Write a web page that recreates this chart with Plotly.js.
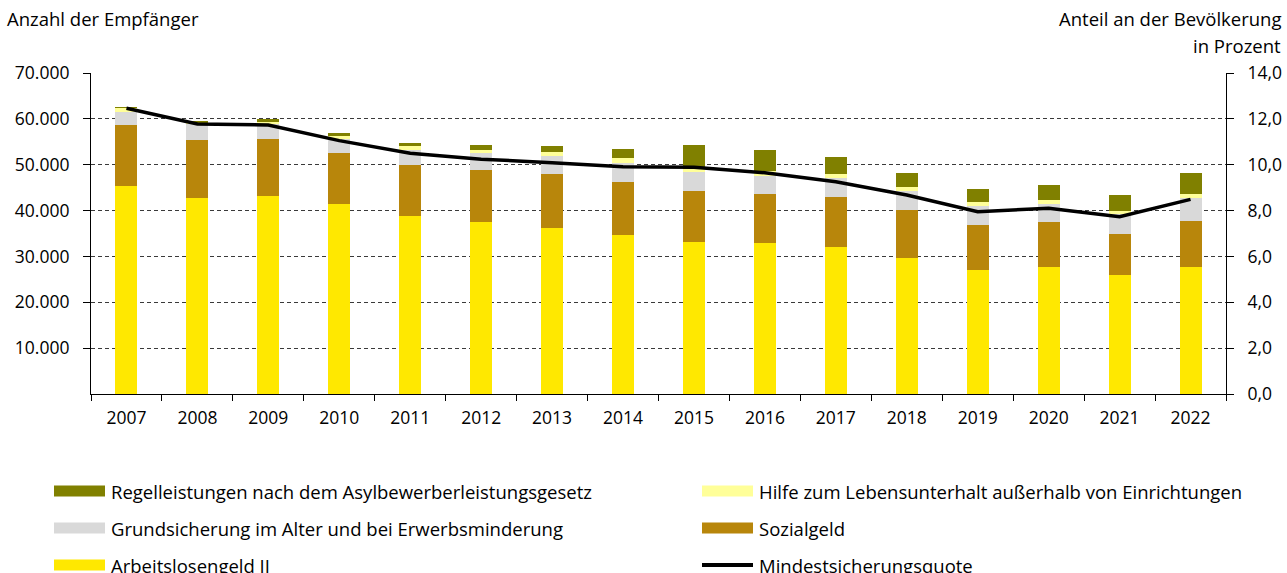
<!DOCTYPE html>
<html>
<head>
<meta charset="utf-8">
<script src="https://cdn.plot.ly/plotly-3.0.1.min.js"></script>
<style>html,body{margin:0;padding:0;background:#fff;}#chart{width:1287px;height:573px;}</style>
</head>
<body>
<div id="chart"></div>
<script>
// ---- data ----
const years = ['2007','2008','2009','2010','2011','2012','2013','2014','2015','2016','2017','2018','2019','2020','2021','2022'];
const arbeitslosengeld = [45300,42700,43100,41400,38800,37400,36300,34700,33200,33000,32100,29700,27000,27700,26000,27600];
const sozialgeld       = [13400,12700,12500,11200,11100,11500,11700,11600,11100,10700,10900,10400, 9900, 9700, 9000,10200];
const grundsicherung   = [ 2900, 3400, 3200, 3000, 3400, 3600, 3900, 4000, 4200, 3900, 4000, 4200, 4000, 4100, 4300, 5000];
const hilfe            = [  700,  400,  600,  700,  700,  800,  800, 1100,  600, 1000,  900,  800,  900,  900,  600,  800];
const asyl             = [  300,  300,  500,  600,  700,  900, 1400, 2000, 5300, 4700, 3700, 3200, 2900, 3100, 3500, 4700];
const quote            = [12.46,11.78,11.73,11.05,10.5,10.24,10.09,9.91,9.89,9.65,9.26,8.68,7.95,8.1,7.73,8.49];

const nameAsyl = 'Regelleistungen nach dem Asylbewerberleistungsgesetz';
const nameHilfe = 'Hilfe zum Lebensunterhalt außerhalb von Einrichtungen';
const nameGrund = 'Grundsicherung im Alter und bei Erwerbsminderung';
const nameSoz = 'Sozialgeld';
const nameAlg = 'Arbeitslosengeld II';
const nameQuote = 'Mindestsicherungsquote';
const leftTitle = 'Anzahl der Empfänger';
const rightTitle1 = 'Anteil an der Bevölkerung';
const rightTitle2 = 'in Prozent';

// ---- styles ----
const FONT = '"Open Sans", "DejaVu Sans", sans-serif';
const FS = 17.5;      // tick labels
const FS_TXT = 18.5;  // legend and titles
const colAlg = '#FFE800', colSoz = '#B8860B', colGrund = '#D9D9D9', colHilfe = '#FFFF99', colAsyl = '#808000';

const W = 1287, H = 573, ML = 91, MR = 61, MT = 73, MB = 179;
const PW = W - ML - MR, PH = H - MT - MB;
const px = x => (x - ML) / PW;
const py = y => (H - MB - y) / PH;

const bar = (name, vals, color) => ({
  type: 'bar', name: name, x: years, y: vals,
  marker: {color: color, line: {width: 0}},
  showlegend: false, hoverinfo: 'skip'
});

const data = [
  bar(nameAlg, arbeitslosengeld, colAlg),
  bar(nameSoz, sozialgeld, colSoz),
  bar(nameGrund, grundsicherung, colGrund),
  bar(nameHilfe, hilfe, colHilfe),
  bar(nameAsyl, asyl, colAsyl),
  {type: 'scatter', mode: 'lines', name: nameQuote, x: years, y: quote, yaxis: 'y2',
   line: {color: '#000', width: 3.5}, showlegend: false, hoverinfo: 'skip'}
];

// manual legend (2 columns x 3 rows)
const legendItems = [
  {label: nameAsyl,  color: colAsyl,  col: 0, row: 0, kind: 'box'},
  {label: nameHilfe, color: colHilfe, col: 1, row: 0, kind: 'box'},
  {label: nameGrund, color: colGrund, col: 0, row: 1, kind: 'box'},
  {label: nameSoz,   color: colSoz,   col: 1, row: 1, kind: 'box'},
  {label: nameAlg,   color: colAlg,   col: 0, row: 2, kind: 'box'},
  {label: nameQuote, color: '#000',   col: 1, row: 2, kind: 'line'}
];
const colX = [54, 702], rowY = [491, 528, 565], swW = 51, swH = 11;
const shapes = [], annotations = [];
legendItems.forEach(it => {
  const x0 = colX[it.col], yc = rowY[it.row];
  if (it.kind === 'box') {
    shapes.push({type: 'rect', xref: 'paper', yref: 'paper',
      x0: px(x0), x1: px(x0 + swW), y0: py(yc + swH/2), y1: py(yc - swH/2),
      fillcolor: it.color, line: {width: 0}});
  } else {
    shapes.push({type: 'line', xref: 'paper', yref: 'paper',
      x0: px(x0), x1: px(x0 + swW), y0: py(yc), y1: py(yc),
      line: {color: it.color, width: 4}});
  }
  annotations.push({xref: 'paper', yref: 'paper', x: px(x0 + swW + 4), y: py(yc),
    xanchor: 'left', yanchor: 'middle', showarrow: false, text: it.label,
    font: {family: FONT, size: FS_TXT, color: '#000'}});
});
annotations.push({xref: 'paper', yref: 'paper', x: px(5), y: py(18), xanchor: 'left', yanchor: 'middle',
  showarrow: false, text: leftTitle, font: {family: FONT, size: FS_TXT, color: '#000'}});
annotations.push({xref: 'paper', yref: 'paper', x: px(1283), y: py(18), xanchor: 'right', yanchor: 'middle',
  showarrow: false, text: rightTitle1, font: {family: FONT, size: FS_TXT, color: '#000'}});
annotations.push({xref: 'paper', yref: 'paper', x: px(1283), y: py(45), xanchor: 'right', yanchor: 'middle',
  showarrow: false, text: rightTitle2, font: {family: FONT, size: FS_TXT, color: '#000'}});

const leftTicks = [];
for (let v = 10000; v <= 70000; v += 10000) leftTicks.push(v);

const layout = {
  width: W, height: H,
  margin: {l: ML, r: MR, t: MT, b: MB, pad: 0},
  paper_bgcolor: '#fff', plot_bgcolor: '#fff',
  separators: ',.',
  font: {family: FONT, size: FS, color: '#000'},
  barmode: 'stack', bargap: 0.69,
  showlegend: false,
  xaxis: {type: 'category', showline: true, linecolor: '#000', linewidth: 1,
    ticks: 'outside', tickson: 'boundaries', ticklen: 6, tickcolor: '#000', tickwidth: 1,
    showgrid: false, zeroline: false, ticklabelstandoff: 8,
    tickfont: {family: FONT, size: FS, color: '#000'}},
  yaxis: {range: [0, 70000], tickmode: 'array', tickvals: leftTicks, tickformat: ',d',
    showline: true, linecolor: '#000', linewidth: 1,
    ticks: 'outside', ticklen: 7, tickcolor: '#000', tickwidth: 1,
    showgrid: true, gridcolor: '#3a3a3a', gridwidth: 1, griddash: '4px,3px',
    zeroline: false, ticklabelstandoff: 10,
    tickfont: {family: FONT, size: FS, color: '#000'}},
  yaxis2: {range: [0, 14], dtick: 2, tick0: 0, tickformat: '.1f', overlaying: 'y', side: 'right',
    showline: true, linecolor: '#000', linewidth: 1,
    ticks: 'outside', ticklen: 7, tickcolor: '#000', tickwidth: 1,
    showgrid: false, zeroline: false, ticklabelstandoff: 10,
    tickfont: {family: FONT, size: FS, color: '#000'}},
  shapes: shapes,
  annotations: annotations
};

Plotly.newPlot('chart', data, layout, {displayModeBar: false, staticPlot: true});
</script>
</body>
</html>
